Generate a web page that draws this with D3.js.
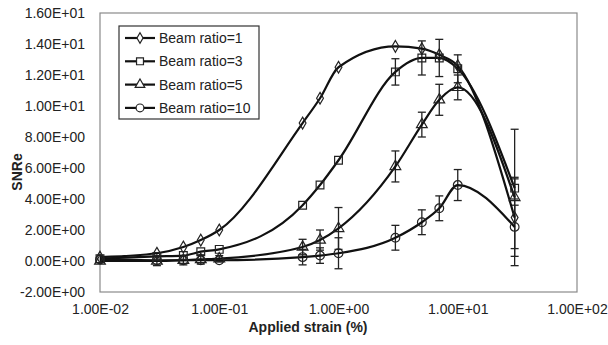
<!DOCTYPE html>
<html>
<head>
<meta charset="utf-8">
<script src="https://cdn.jsdelivr.net/npm/d3@7"></script>
<style>
  body { margin: 0; background: #fff; }
  text { font-family: "Liberation Sans", Arial, sans-serif; fill: #222; }
</style>
</head>
<body>
<div id="chart"></div>
<script>
// strain values (%) where points were measured
var strains = [0.01, 0.03, 0.05, 0.07, 0.1, 0.5, 0.7, 1, 3, 5, 7, 10, 30];

var seriesNames = ["Beam ratio=1", "Beam ratio=3", "Beam ratio=5", "Beam ratio=10"];
var seriesSymbols = ["diamond", "square", "triangle", "circle"];

var ratio1 = [0.25, 0.5, 0.9, 1.35, 2.0, 8.9, 10.5, 12.5, 13.85, 13.7, 13.3, 12.6, 2.8];
var ratio3 = [0.15, 0.3, 0.35, 0.6, 0.75, 3.6, 4.9, 6.5, 12.2, 13.1, 13.1, 12.4, 4.7];
var ratio5 = [0.0, 0.0, 0.05, 0.1, 0.15, 0.9, 1.35, 2.1, 6.1, 8.8, 10.4, 11.2, 4.1];
var ratio10 = [0.1, 0.05, 0.05, 0.05, 0.05, 0.25, 0.35, 0.5, 1.5, 2.5, 3.4, 4.9, 2.2];

var err1 = [0, 0, 0, 0, 0, 0, 0, 0, 0, 0, 0, 0, 2.5];
var err3 = [0, 0, 0, 0, 0, 0, 0, 0, 0.85, 1.1, 1.2, 0.9, 0.7];
var err5 = [0, 0.3, 0.3, 0.3, 0.2, 0.5, 0.65, 1.35, 1.0, 0.8, 1.0, 0.8, 4.4];
var err10 = [0, 0, 0, 0, 0, 0.5, 0.5, 1.0, 0.8, 0.8, 0.8, 1.0, 1.4];

var yTicks = [-2, 0, 2, 4, 6, 8, 10, 12, 14, 16];
var xTicks = [0.01, 0.1, 1, 10, 100];

var allValues = [ratio1, ratio3, ratio5, ratio10];
var allErrors = [err1, err3, err5, err10];

var width = 608;
var height = 345;
var margin = { left: 100, right: 31, top: 13, bottom: 53 };

function sci(v) {
    var e = v === 0 ? 0 : Math.floor(Math.log10(Math.abs(v)) + 1e-9);
    var m = v / Math.pow(10, e);
    var sign = e < 0 ? "-" : "+";
    var ea = Math.abs(e);
    return m.toFixed(2) + "E" + sign + (ea < 10 ? "0" + ea : ea);
}

var svg = d3.select("#chart")
    .append("svg")
    .attr("width", width)
    .attr("height", height);

var x = d3.scaleLog()
    .domain([0.01, 100])
    .range([margin.left, width - margin.right]);

var y = d3.scaleLinear()
    .domain([-2, 16])
    .range([height - margin.bottom, margin.top]);

// plot area border
svg.append("rect")
    .attr("x", x(0.01))
    .attr("y", y(16))
    .attr("width", x(100) - x(0.01))
    .attr("height", y(-2) - y(16))
    .attr("fill", "none")
    .attr("stroke", "#8a8a8a")
    .attr("stroke-width", 1.2);

// y tick labels
svg.append("g")
    .attr("transform", "translate(" + (margin.left - 12) + ",0)")
    .call(d3.axisLeft(y).tickValues(yTicks).tickSize(0).tickFormat(sci))
    .call(function (g) { g.select(".domain").remove(); })
    .selectAll("text")
    .attr("font-size", 14)
    .attr("font-family", "Liberation Sans, Arial, sans-serif")
    .attr("fill", "#333");

// x tick labels
svg.append("g")
    .attr("transform", "translate(0," + (y(-2) + 9) + ")")
    .call(d3.axisBottom(x).tickValues(xTicks).tickSize(0).tickFormat(sci))
    .call(function (g) { g.select(".domain").remove(); })
    .selectAll("text")
    .attr("font-size", 14)
    .attr("font-family", "Liberation Sans, Arial, sans-serif")
    .attr("fill", "#333");

// axis titles
svg.append("text")
    .attr("x", 308)
    .attr("y", 332)
    .attr("text-anchor", "middle")
    .attr("font-size", 14)
    .attr("font-weight", "bold")
    .text("Applied strain (%)");

svg.append("text")
    .attr("transform", "translate(22," + 172 + ") rotate(-90)")
    .attr("text-anchor", "middle")
    .attr("font-size", 14)
    .attr("font-weight", "bold")
    .text("SNRe");

var symbolTypes = {
    diamond: d3.symbolDiamond,
    square: d3.symbolSquare,
    triangle: d3.symbolTriangle,
    circle: d3.symbolCircle
};
var symbolSizes = { diamond: 40, square: 60, triangle: 50, circle: 60 };

var line = d3.line()
    .x(function (d) { return x(d[0]); })
    .y(function (d) { return y(d[1]); })
    .curve(d3.curveMonotoneX);

// error bars first, then lines, then markers
allValues.forEach(function (vals, si) {
    var errs = allErrors[si];
    var g = svg.append("g").attr("class", "errors");
    strains.forEach(function (s, i) {
        if (!errs[i]) return;
        var cx = x(s);
        var y1 = y(vals[i] + errs[i]);
        var y2 = y(vals[i] - errs[i]);
        g.append("line").attr("x1", cx).attr("x2", cx).attr("y1", y1).attr("y2", y2);
        g.append("line").attr("x1", cx - 4).attr("x2", cx + 4).attr("y1", y1).attr("y2", y1);
        g.append("line").attr("x1", cx - 4).attr("x2", cx + 4).attr("y1", y2).attr("y2", y2);
    });
    g.selectAll("line").attr("stroke", "#222").attr("stroke-width", 1.3);
});

allValues.forEach(function (vals) {
    var pts = strains.map(function (s, i) { return [s, vals[i]]; });
    svg.append("path")
        .attr("d", line(pts))
        .attr("fill", "none")
        .attr("stroke", "#111")
        .attr("stroke-width", 2.2);
});

allValues.forEach(function (vals, si) {
    var sym = seriesSymbols[si];
    svg.append("g").selectAll("path")
        .data(strains.map(function (s, i) { return [s, vals[i]]; }))
        .enter().append("path")
        .attr("d", d3.symbol().type(symbolTypes[sym]).size(symbolSizes[sym]))
        .attr("transform", function (d) { return "translate(" + x(d[0]) + "," + y(d[1]) + ")"; })
        .attr("fill", "none")
        .attr("stroke", "#222")
        .attr("stroke-width", 1.2);
});

// legend
var legend = svg.append("g").attr("transform", "translate(119,26)");
legend.append("rect")
    .attr("width", 140)
    .attr("height", 93)
    .attr("fill", "#fff")
    .attr("stroke", "#333")
    .attr("stroke-width", 1.2);

seriesNames.forEach(function (name, i) {
    var ly = 12 + i * 23.3;
    var sym = seriesSymbols[i];
    legend.append("line")
        .attr("x1", 6).attr("x2", 36)
        .attr("y1", ly).attr("y2", ly)
        .attr("stroke", "#111")
        .attr("stroke-width", 2.2);
    legend.append("path")
        .attr("d", d3.symbol().type(symbolTypes[sym]).size(symbolSizes[sym] * 0.8))
        .attr("transform", "translate(21," + ly + ")")
        .attr("fill", "#fff")
        .attr("stroke", "#222")
        .attr("stroke-width", 1.2);
    legend.append("text")
        .attr("x", 40)
        .attr("y", ly + 5)
        .attr("font-size", 14)
        .text(name);
});
</script>
</body>
</html>
